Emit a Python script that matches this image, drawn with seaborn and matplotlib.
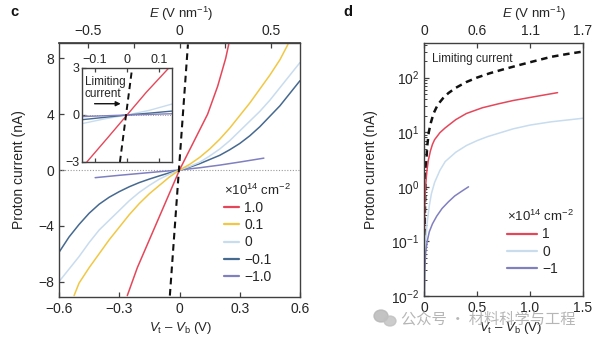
import numpy as np
import pandas as pd
import matplotlib
matplotlib.use("Agg")
import matplotlib.pyplot as plt
import seaborn as sns
from matplotlib.lines import Line2D
from matplotlib.patches import Ellipse

sns.set_theme(style="ticks")
plt.rcParams["font.family"] = ["Liberation Sans", "DejaVu Sans"]
plt.rcParams["mathtext.fontset"] = "custom"
plt.rcParams["mathtext.rm"] = "Liberation Sans"
plt.rcParams["mathtext.it"] = "Liberation Sans:italic"
plt.rcParams["axes.unicode_minus"] = True

# ---------------- data: panel c (linear I-V) ----------------
c_labels = ["1.0", "0.1", "0", "\u22120.1", "\u22121.0"]
c_colors = ["#e5475a", "#f2c744", "#c8dcee", "#46698f", "#8080c0"]

V_c_red = [-0.26, -0.235, -0.21, -0.18, -0.15, -0.12, -0.09, -0.06, -0.03, 0.0,
           0.035, 0.07, 0.105, 0.14, 0.165, 0.19, 0.21, 0.23, 0.245]
I_c_red = [-9.0, -8.0, -7.0, -6.0, -5.0, -4.0, -3.0, -2.0, -1.0, 0.0,
           1.0, 2.0, 3.0, 4.0, 5.0, 6.0, 7.0, 8.0, 9.0]

V_c_yel = [-0.525, -0.5, -0.45, -0.4, -0.35, -0.3, -0.25, -0.2, -0.15, -0.1, -0.05, 0.0,
           0.05, 0.1, 0.15, 0.2, 0.25, 0.3, 0.35, 0.4, 0.45, 0.5, 0.54]
I_c_yel = [-9.0, -8.1, -7.0, -6.0, -5.0, -4.1, -3.2, -2.4, -1.7, -1.1, -0.5, 0.0,
           0.4, 0.9, 1.5, 2.2, 3.0, 3.9, 4.8, 5.8, 6.8, 7.9, 9.0]

V_c_lb = [-0.6, -0.55, -0.5, -0.45, -0.4, -0.35, -0.3, -0.25, -0.2, -0.15, -0.1, -0.05, 0.0,
          0.05, 0.1, 0.15, 0.2, 0.25, 0.3, 0.35, 0.4, 0.45, 0.5, 0.55, 0.6]
I_c_lb = [-8.0, -7.1, -6.2, -5.2, -4.3, -3.6, -2.9, -2.2, -1.6, -1.1, -0.65, -0.3, 0.0,
          0.25, 0.55, 1.0, 1.5, 2.1, 2.8, 3.5, 4.2, 5.0, 5.9, 6.8, 7.7]

V_c_db = [-0.6, -0.55, -0.5, -0.45, -0.4, -0.35, -0.3, -0.25, -0.2, -0.15, -0.1, -0.05, 0.0,
          0.05, 0.1, 0.15, 0.2, 0.25, 0.3, 0.35, 0.4, 0.45, 0.5, 0.55, 0.6]
I_c_db = [-5.9, -4.8, -3.9, -3.1, -2.45, -1.95, -1.55, -1.2, -0.9, -0.65, -0.42, -0.2, 0.0,
          0.2, 0.45, 0.75, 1.05, 1.45, 1.9, 2.45, 3.1, 3.85, 4.6, 5.5, 6.4]

V_c_pu = [-0.42, -0.3, -0.2, -0.1, 0.0, 0.1, 0.2, 0.3, 0.42]
I_c_pu = [-0.55, -0.38, -0.25, -0.12, 0.0, 0.16, 0.35, 0.57, 0.85]

V_c_lim = [-0.048, 0.042]
I_c_lim = [-9.0, 9.0]

# inset of panel c
V_in_red = [-0.125, -0.06, 0.0, 0.06, 0.13]
I_in_red = [-3.0, -1.45, 0.0, 1.45, 3.0]
V_in_lb = [-0.14, -0.07, 0.0, 0.07, 0.14]
I_in_lb = [-0.55, -0.25, 0.0, 0.3, 0.7]
V_in_db = [-0.14, -0.07, 0.0, 0.07, 0.14]
I_in_db = [-0.3, -0.15, 0.0, 0.12, 0.25]
V_in_pu = [-0.14, 0.0, 0.14]
I_in_pu = [-0.1, 0.0, 0.08]
V_in_lim = [-0.022, 0.016]
I_in_lim = [-3.0, 3.0]

c_E_ticks = [-0.5, 0.0, 0.5]

# ---------------- data: panel d (log) ----------------
d_labels = ["1", "0", "\u22121"]
d_colors = ["#e5475a", "#c8dcee", "#8080c0"]

V_d_red = [0.003, 0.006, 0.01, 0.015, 0.025, 0.04, 0.06, 0.08, 0.1, 0.15, 0.2, 0.3,
           0.4, 0.55, 0.7, 0.84, 1.05, 1.26]
I_d_red = [0.1, 0.3, 0.6, 1.0, 1.8, 3.0, 4.5, 6.0, 7.3, 9.8, 12.0, 17.0,
           22.0, 28.0, 33.0, 38.0, 45.0, 53.0]

V_d_lb = [0.002, 0.005, 0.01, 0.02, 0.03, 0.05, 0.07, 0.1, 0.15, 0.2, 0.3, 0.4, 0.5,
          0.6, 0.84, 1.0, 1.2, 1.5]
I_d_lb = [0.01, 0.03, 0.06, 0.13, 0.22, 0.45, 0.75, 1.2, 2.0, 2.9, 4.3, 5.7, 7.0,
          8.3, 11.5, 13.5, 15.5, 18.0]

V_d_pu = [0.004, 0.008, 0.015, 0.03, 0.05, 0.08, 0.12, 0.17, 0.23, 0.29, 0.36, 0.42]
I_d_pu = [0.01, 0.03, 0.06, 0.1, 0.15, 0.21, 0.29, 0.4, 0.53, 0.68, 0.84, 1.0]

V_d_lim = [0.003, 0.008, 0.013, 0.02, 0.03, 0.045, 0.065, 0.09, 0.13, 0.18, 0.23, 0.3,
           0.4, 0.5, 0.62, 0.74, 0.9, 1.04, 1.2, 1.35, 1.5]
I_d_lim = [0.05, 0.3, 1.0, 2.5, 5.5, 10.0, 15.0, 22.0, 32.0, 42.0, 52.0, 65.0,
           83.0, 100.0, 120.0, 140.0, 170.0, 200.0, 240.0, 270.0, 300.0]

d_E_labels = ["0", "0.6", "1.1", "1.7"]

# ---------------- build frames ----------------
def long_frame(series, labels):
    rows = []
    for lab, (vx, iy) in zip(labels, series):
        rows.append(pd.DataFrame({"V": vx, "I": iy, "n": lab}))
    return pd.concat(rows, ignore_index=True)

df_c = long_frame([(V_c_red, I_c_red), (V_c_yel, I_c_yel), (V_c_lb, I_c_lb),
                   (V_c_db, I_c_db), (V_c_pu, I_c_pu)], c_labels)
df_in = long_frame([(V_in_lb, I_in_lb), (V_in_db, I_in_db), (V_in_pu, I_in_pu),
                    (V_in_red, I_in_red)],
                   [c_labels[2], c_labels[3], c_labels[4], c_labels[0]])
df_d = long_frame([(V_d_red, I_d_red), (V_d_lb, I_d_lb), (V_d_pu, I_d_pu)], d_labels)

pal_c = dict(zip(c_labels, c_colors))
pal_d = dict(zip(d_labels, d_colors))

TXT = "#262626"
SP = "#404040"
FT = 10      # tick labels
FL = 10      # legend
FA = 9.5     # axis labels

fig = plt.figure(figsize=(6.02, 3.44), dpi=100)

def style_axes(ax):
    for s in ax.spines.values():
        s.set_color(SP)
        s.set_linewidth(1.0)
    ax.tick_params(direction="in", length=3.5, width=0.9, color=SP,
                   labelsize=FT, labelcolor=TXT, pad=3.5)

# ---------------- panel c ----------------
axc = fig.add_axes([59 / 602, (344 - 297) / 344, 241 / 602, 254 / 344])
style_axes(axc)
axc.axhline(0, color="#9a9a9a", ls=(0, (1, 1.5)), lw=0.8, zorder=1)
sns.lineplot(data=df_c, x="V", y="I", hue="n", hue_order=c_labels[::-1],
             palette=pal_c, sort=False, estimator=None, legend=False,
             lw=1.1, ax=axc)
sns.lineplot(x=V_c_lim, y=I_c_lim, color="#111111", lw=1.5,
             ls=(0, (3.2, 2.2)), ax=axc)
axc.set_xlim(-0.6, 0.6)
axc.set_ylim(-9.1, 9.1)
axc.set_xticks([-0.6, -0.3, 0, 0.3, 0.6])
axc.set_xticklabels(["\u22120.6", "\u22120.3", "0", "0.3", "0.6"])
axc.set_yticks([-8, -4, 0, 4, 8])
axc.set_xlabel("")
axc.set_ylabel("")
secc = axc.secondary_xaxis("top", functions=(lambda v: v * 1.1, lambda e: e / 1.1))
secc.set_xticks(c_E_ticks)
secc.set_xticks([-0.25, 0.25], minor=True)
secc.set_xticklabels(["\u22120.5", "0", "0.5"])
secc.spines["top"].set_color(SP)
secc.tick_params(which="both", direction="in", length=3.5, width=0.9, color=SP,
                 labelsize=FT, labelcolor=TXT, pad=3.5)

hc = [Line2D([], [], color=c, lw=1.6) for c in c_colors]
legc = axc.legend(hc, c_labels, title="\u00d710$^{14}$ cm$^{-2}$", frameon=False,
                  loc="upper left", bbox_to_anchor=(0.685, 0.45), borderaxespad=0,
                  borderpad=0, handlelength=1.1, handletextpad=0.35,
                  labelspacing=0.23, fontsize=FL, title_fontsize=FL - 0.5,
                  alignment="left")
for t in legc.get_texts():
    t.set_color(TXT)
legc.get_title().set_color(TXT)

# inset
axi = fig.add_axes([82 / 602, (344 - 162) / 344, 90 / 602, 94 / 344])
for s in axi.spines.values():
    s.set_color(SP)
    s.set_linewidth(1.0)
axi.set_facecolor("white")
axi.axhline(0, color="#9a9a9a", ls=(0, (1, 1.5)), lw=0.7, zorder=1)
sns.lineplot(data=df_in, x="V", y="I", hue="n",
             hue_order=[c_labels[2], c_labels[3], c_labels[4], c_labels[0]],
             palette=pal_c, sort=False, estimator=None, legend=False,
             lw=1.0, ax=axi)
sns.lineplot(x=V_in_lim, y=I_in_lim, color="#111111", lw=1.4,
             ls=(0, (3.2, 2.2)), ax=axi)
axi.set_xlim(-0.14, 0.14)
axi.set_ylim(-3, 3)
axi.set_xticks([-0.1, 0, 0.1])
axi.set_xticklabels(["\u22120.1", "0", "0.1"])
axi.set_yticks([-3, 0, 3])
axi.set_yticklabels(["\u22123", "0", "3"])
axi.set_xlabel("")
axi.set_ylabel("")
axi.tick_params(direction="in", length=3, width=0.9, color=SP, labelsize=9,
                labelcolor=TXT, pad=1.5, top=True, bottom=True,
                labeltop=True, labelbottom=False)
axi.text(0.03, 0.785, "Limiting\ncurrent", transform=axi.transAxes, fontsize=8.5,
         color=TXT, va="center", ha="left", linespacing=0.95)
axi.annotate("", xy=(0.43, 0.62), xytext=(0.14, 0.62), xycoords="axes fraction",
             arrowprops=dict(arrowstyle="-|>", color="#111111", lw=1.0,
                             mutation_scale=7, shrinkA=0, shrinkB=0))

# ---------------- panel d ----------------
axd = fig.add_axes([424 / 602, (344 - 296) / 344, 159 / 602, 253 / 344])
style_axes(axd)
sns.lineplot(x=V_d_lim, y=I_d_lim, color="#111111", lw=1.8,
             ls=(0, (2.6, 1.9)), ax=axd)
sns.lineplot(data=df_d, x="V", y="I", hue="n", hue_order=d_labels,
             palette=pal_d, sort=False, estimator=None, legend=False,
             lw=1.1, ax=axd)
axd.set_yscale("log")
axd.set_xlim(0, 1.5)
axd.set_ylim(1e-2, 4.3e2)
axd.set_xticks([0, 0.5, 1.0, 1.5])
axd.set_xticklabels(["0", "0.5", "1.0", "1.5"])
axd.set_yticks([1e-2, 1e-1, 1e0, 1e1, 1e2])
axd.tick_params(which="minor", direction="in", length=2, width=0.7, color=SP)
axd.set_xlabel("")
axd.set_ylabel("")
topd = axd.twiny()
topd.set_xlim(0, 1.5)
topd.set_xticks([0, 0.5, 1.0, 1.5])
topd.set_xticklabels(d_E_labels)
for s in topd.spines.values():
    s.set_visible(False)
topd.tick_params(direction="in", length=3.5, width=0.9, color=SP,
                 labelsize=FT, labelcolor=TXT, pad=3.5)
axd.text(0.05, 0.935, "Limiting current", transform=axd.transAxes,
         fontsize=8.5, color=TXT, va="center", ha="left")

hd = [Line2D([], [], color=c, lw=1.6) for c in d_colors]
legd = axd.legend(hd, d_labels, title="\u00d710$^{14}$ cm$^{-2}$", frameon=False,
                  loc="upper left", bbox_to_anchor=(0.52, 0.345), borderaxespad=0,
                  borderpad=0, handlelength=2.2, handletextpad=0.35,
                  labelspacing=0.25, fontsize=FL, title_fontsize=FL - 0.5,
                  alignment="left")
for t in legd.get_texts():
    t.set_color(TXT)
legd.get_title().set_color(TXT)

# ---------------- labels ----------------
fig.text(10 / 602, 1 - 12 / 344, "c", fontsize=10.5, fontweight="bold", color="#111",
         va="center", ha="left")
fig.text(343 / 602, 1 - 12 / 344, "d", fontsize=10.5, fontweight="bold", color="#111",
         va="center", ha="left")
fig.text(181 / 602, 1 - 14 / 344, r"$\it{E}$ (V nm$^{-1}$)", fontsize=FA, color=TXT,
         ha="center", va="center")
fig.text(534 / 602, 1 - 14 / 344, r"$\it{E}$ (V nm$^{-1}$)", fontsize=FA, color=TXT,
         ha="center", va="center")
fig.text(19 / 602, 1 - 170 / 344, "Proton current (nA)", fontsize=10, color=TXT,
         rotation=90, ha="center", va="center")
fig.text(371 / 602, 1 - 170 / 344, "Proton current (nA)", fontsize=10, color=TXT,
         rotation=90, ha="center", va="center")
xl = r"$\it{V}_{\rm t}$ " + "\u2013" + r" $\it{V}_{\rm b}$ (V)"
fig.text(181 / 602, 1 - 328 / 344, xl, fontsize=FA, color=TXT, ha="center", va="center")
fig.text(511 / 602, 1 - 328 / 344, xl, fontsize=FA, color=TXT, ha="center", va="center")

# watermark
fig.patches.append(Ellipse((381 / 602, 1 - 316 / 344), 14 / 602, 12 / 344,
                           transform=fig.transFigure, color="#b5b5b5", alpha=0.8))
fig.patches.append(Ellipse((390 / 602, 1 - 321 / 344), 12 / 602, 10 / 344,
                           transform=fig.transFigure, color="#c0c0c0", alpha=0.8))
fig.text(401 / 602, 1 - 319 / 344, "公众号 · 材料科学与工程", fontsize=11,
         family=["Noto Sans CJK SC", "DejaVu Sans"], color="#aaaaaa", alpha=0.85,
         ha="left", va="center")

fig.savefig("out.png", dpi=100)
